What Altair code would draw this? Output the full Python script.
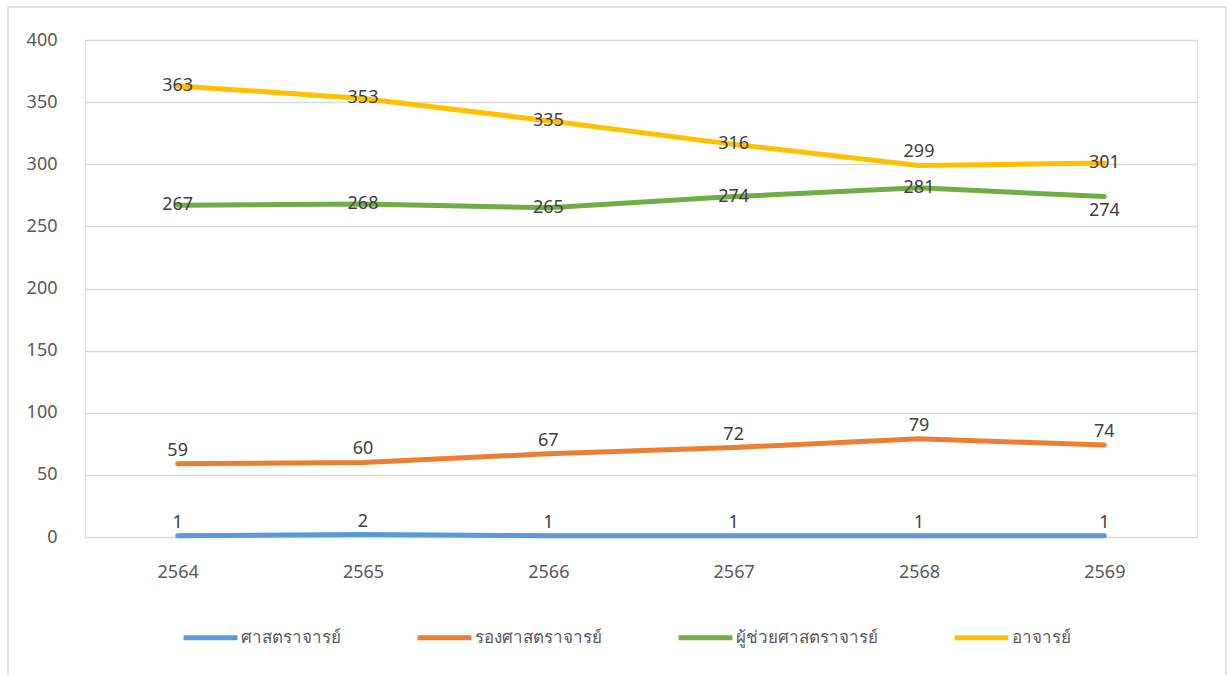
import altair as alt
import pandas as pd

years = ["2564", "2565", "2566", "2567", "2568", "2569"]
series_names = ["ศาสตราจารย์", "รองศาสตราจารย์", "ผู้ช่วยศาสตราจารย์", "อาจารย์"]
prof = [1, 2, 1, 1, 1, 1]
assoc = [59, 60, 67, 72, 79, 74]
asst = [267, 268, 265, 274, 281, 274]
lect = [363, 353, 335, 316, 299, 301]
colors = ["#5B9BD5", "#ED7D31", "#70AD47", "#FFC000"]

rows = []
for name, vals in zip(series_names, [prof, assoc, asst, lect]):
    for y, v in zip(years, vals):
        rows.append({"year": y, "series": name, "value": v})
df = pd.DataFrame(rows)

FONT = "Noto Sans"
W, H = 1112, 497

x_enc = alt.X("year:N", sort=years, scale=alt.Scale(paddingOuter=0.5, paddingInner=0),
              axis=alt.Axis(title=None, labelAngle=0, domain=False, ticks=False, grid=False,
                            labelPadding=26, labelFontSize=18, labelColor="#595959", labelFont=FONT))
y_enc = alt.Y("value:Q", scale=alt.Scale(domain=[0, 400]),
              axis=alt.Axis(title=None, values=list(range(0, 401, 50)), domain=False, ticks=False,
                            grid=True, gridColor="#d9d9d9", gridWidth=1.3,
                            labelPadding=28, labelFontSize=18, labelColor="#595959", labelFont=FONT))
color_enc = alt.Color("series:N", sort=series_names,
                      scale=alt.Scale(domain=series_names, range=colors),
                      legend=alt.Legend(title=None, orient="none", direction="horizontal",
                                        legendX=96, legendY=568, symbolType="stroke",
                                        symbolStrokeWidth=5, symbolSize=2900, labelOffset=1,
                                        columnPadding=66, labelFontSize=17, labelColor="#595959",
                                        labelFont=FONT, labelLimit=300))

base = alt.Chart(df)

border = alt.Chart(pd.DataFrame({"a": [0]})).mark_rect(
    fill=None, stroke="#d9d9d9", strokeWidth=1.5
).encode(x=alt.value(-77), x2=alt.value(1141), y=alt.value(-33), y2=alt.value(645))

lines = base.mark_line(strokeWidth=5, strokeCap="round", strokeJoin="round").encode(
    x=x_enc, y=y_enc, color=color_enc, order=alt.Order("year:N")
)

txt_kw = dict(fontSize=18, color="#404040", font=FONT, baseline="middle", align="center")

above_expr = ("datum.series == 'ศาสตราจารย์' || datum.series == 'รองศาสตราจารย์' || "
              "(datum.series == 'อาจารย์' && datum.year == '2568')")
below_expr = "datum.series == 'ผู้ช่วยศาสตราจารย์' && datum.year == '2569'"

t_above = base.transform_filter(above_expr).mark_text(dy=-13, **txt_kw).encode(
    x=alt.X("year:N", sort=years), y="value:Q", text="value:Q")
t_below = base.transform_filter(below_expr).mark_text(dy=14, **txt_kw).encode(
    x=alt.X("year:N", sort=years), y="value:Q", text="value:Q")
t_center = base.transform_filter(f"!({above_expr}) && !({below_expr})").mark_text(**txt_kw).encode(
    x=alt.X("year:N", sort=years), y="value:Q", text="value:Q")

chart = alt.layer(border, lines, t_above, t_below, t_center).properties(
    width=W, height=H,
    autosize=alt.AutoSizeParams(type="none"),
    padding={"left": 85, "top": 40, "right": 35, "bottom": 138},
).configure_view(stroke=None).configure(background="white")

chart.save("out.html", embed_options={"renderer": "svg", "actions": False})
